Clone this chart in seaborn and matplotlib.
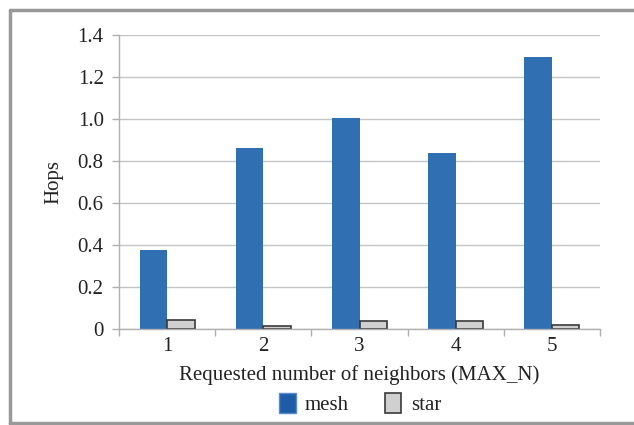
import matplotlib
matplotlib.use("Agg")
import matplotlib.pyplot as plt
import matplotlib.lines as mlines
from matplotlib.patches import Patch
from matplotlib.ticker import FixedLocator
import seaborn as sns
import pandas as pd

categories = ["1", "2", "3", "4", "5"]
mesh = [0.376, 0.863, 1.003, 0.838, 1.295]
star = [0.041, 0.013, 0.036, 0.040, 0.017]
series_names = ["mesh", "star"]
y_ticks = [0, 0.2, 0.4, 0.6, 0.8, 1.0, 1.2, 1.4]
y_tick_labels = ["0", "0.2", "0.4", "0.6", "0.8", "1.0", "1.2", "1.4"]

df = pd.DataFrame({
    "MAX_N": categories * 2,
    "Hops": mesh + star,
    "topology": [series_names[0]] * len(categories) + [series_names[1]] * len(categories),
})

sns.set_theme(style="white")
plt.rcParams["font.family"] = ["Liberation Serif", "DejaVu Serif"]

fig = plt.figure(figsize=(6.34, 4.25), dpi=100)
ax = fig.add_axes([119 / 634, 1 - 329 / 425, (600 - 119) / 634, (329 - 35) / 425])

mesh_color = "#2f6fb2"
star_color = "#d0d0d0"
sns.barplot(data=df, x="MAX_N", y="Hops", hue="topology", order=categories,
            hue_order=series_names, palette=[mesh_color, star_color],
            width=0.57, dodge=True, ax=ax, legend=False, saturation=1)

# star bars get a dark outline, mesh bars none
for i, bar in enumerate(ax.patches):
    if i >= len(categories):
        bar.set_edgecolor("#3a3a3a")
        bar.set_linewidth(1.2)
    else:
        bar.set_edgecolor("none")

ax.set_ylim(0, 1.4)
ax.set_xlim(-0.5, len(categories) - 0.5)
ax.set_yticks(y_ticks)
ax.set_yticklabels(y_tick_labels)
ax.yaxis.grid(True, color="#c4c4c4", linewidth=1)
ax.set_axisbelow(True)

for side in ["top", "right"]:
    ax.spines[side].set_visible(False)
for side in ["left", "bottom"]:
    ax.spines[side].set_color("#b0b0b0")
    ax.spines[side].set_linewidth(1)

ax.xaxis.set_minor_locator(FixedLocator([k - 0.5 for k in range(len(categories) + 1)]))
ax.tick_params(axis="x", which="major", length=0, pad=6, labelsize=15, colors="#222222")
ax.tick_params(axis="x", which="minor", length=5, width=1, color="#b0b0b0", direction="out", bottom=True)
ax.tick_params(axis="y", which="major", length=5, width=1, color="#b0b0b0", direction="out",
               left=True, labelsize=15, colors="#222222", pad=6)

ax.set_xlabel("Requested number of neighbors (MAX_N)", fontsize=15, color="#222222", labelpad=6)
ax.set_ylabel("Hops", fontsize=15, color="#222222", labelpad=10)

handles = [Patch(facecolor="#1f5ca8", edgecolor="#5a8ad0", label="mesh"),
           Patch(facecolor=star_color, edgecolor="#3a3a3a", linewidth=1.2, label="star")]
fig.legend(handles=handles, loc="center", bbox_to_anchor=(360 / 634, 1 - 404 / 425), ncol=2,
           frameon=False, fontsize=15, handlelength=0.8, handleheight=1.1,
           columnspacing=1.7, handletextpad=0.45, labelcolor="#222222")

# grey frame around the figure on the left, top and bottom
frame_color = "#999999"
fig.add_artist(mlines.Line2D([10 / 634, 10 / 634], [0, 1 - 10 / 425], transform=fig.transFigure,
                             color=frame_color, linewidth=2.5))
fig.add_artist(mlines.Line2D([10 / 634, 1], [1 - 10 / 425, 1 - 10 / 425], transform=fig.transFigure,
                             color=frame_color, linewidth=2.5))
fig.add_artist(mlines.Line2D([10 / 634, 1], [1 - 423 / 425, 1 - 423 / 425], transform=fig.transFigure,
                             color=frame_color, linewidth=2.5))

fig.savefig("out.png", dpi=100)
